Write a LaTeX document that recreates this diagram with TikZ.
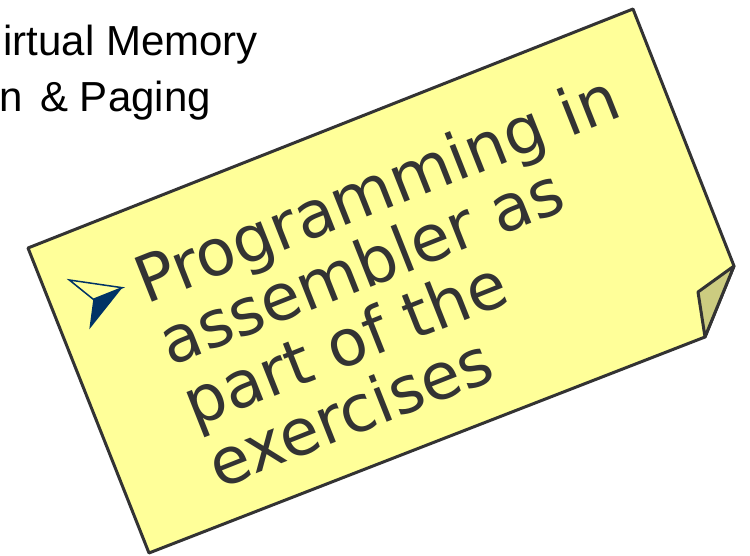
\documentclass[tikz,border=0pt]{standalone}
\usepackage{fontspec}
\newfontfamily\notefont{DejaVu Sans}
\newfontfamily\slidefont{Liberation Sans}
\definecolor{noteyellow}{HTML}{FFFF99}
\definecolor{notefold}{HTML}{CCCC80}
\definecolor{noteline}{HTML}{333333}
\definecolor{bulletnavy}{HTML}{003366}
\tikzset{
  notebody/.style={fill=noteyellow, draw=noteline, line width=3pt, line join=round},
  notecurl/.style={fill=notefold, draw=noteline, line width=3pt, line join=round},
  noteline/.style={anchor=base west, inner sep=0pt, text=noteline, font=\notefont\fontsize{64.5}{66}\selectfont},
  slideline/.style={anchor=base east, inner sep=0pt, text=black, font=\slidefont\fontsize{42}{50}\selectfont}
}
\begin{document}
\begin{tikzpicture}[x=1pt, y=1pt]
\useasboundingbox (0,0) rectangle (750,-556);
\fill[white] (0,0) rectangle (750,-556);
% slide text, partly cut off on the left
\node[slideline] (vm) at (258,-55.5) {irtual Memory};
\node[slideline] (sp) at (211,-112) {n\kern6pt{} \& Paging};
% sticky note
\coordinate (tl) at (28,-248);
\coordinate (tr) at (633,-9);
\coordinate (tip) at (734,-266);
\coordinate (fin) at (698,-292);
\coordinate (fbot) at (705,-337);
\coordinate (bl) at (149,-553);
\draw[notebody] (tl) -- (tr) -- (tip) -- (fbot) -- (bl) -- cycle;
\draw[notecurl] (tip) -- (fin) -- (fbot) -- cycle;
% bullet arrowhead
\coordinate (bback) at (69.3,-280);
\coordinate (btip) at (122.3,-287.7);
\coordinate (bnotch) at (93.3,-299.3);
\coordinate (bbot) at (89.3,-329.3);
\fill[bulletnavy] (bnotch) -- (btip) -- (bbot) -- cycle;
\draw[bulletnavy, line width=1.5pt, line join=miter] (bback) -- (btip) -- (bnotch) -- cycle;
% note text
\begin{scope}[shift={(146,-305)}, rotate=21.6, transform shape]
\node[noteline] (l1) at (0,0) {Programming in};
\node[noteline] (l2) at (0,-66) {assembler as};
\node[noteline] (l3) at (0,-132) {part of the};
\node[noteline] (l4) at (0,-198) {exercises};
\end{scope}
\end{tikzpicture}
\end{document}
